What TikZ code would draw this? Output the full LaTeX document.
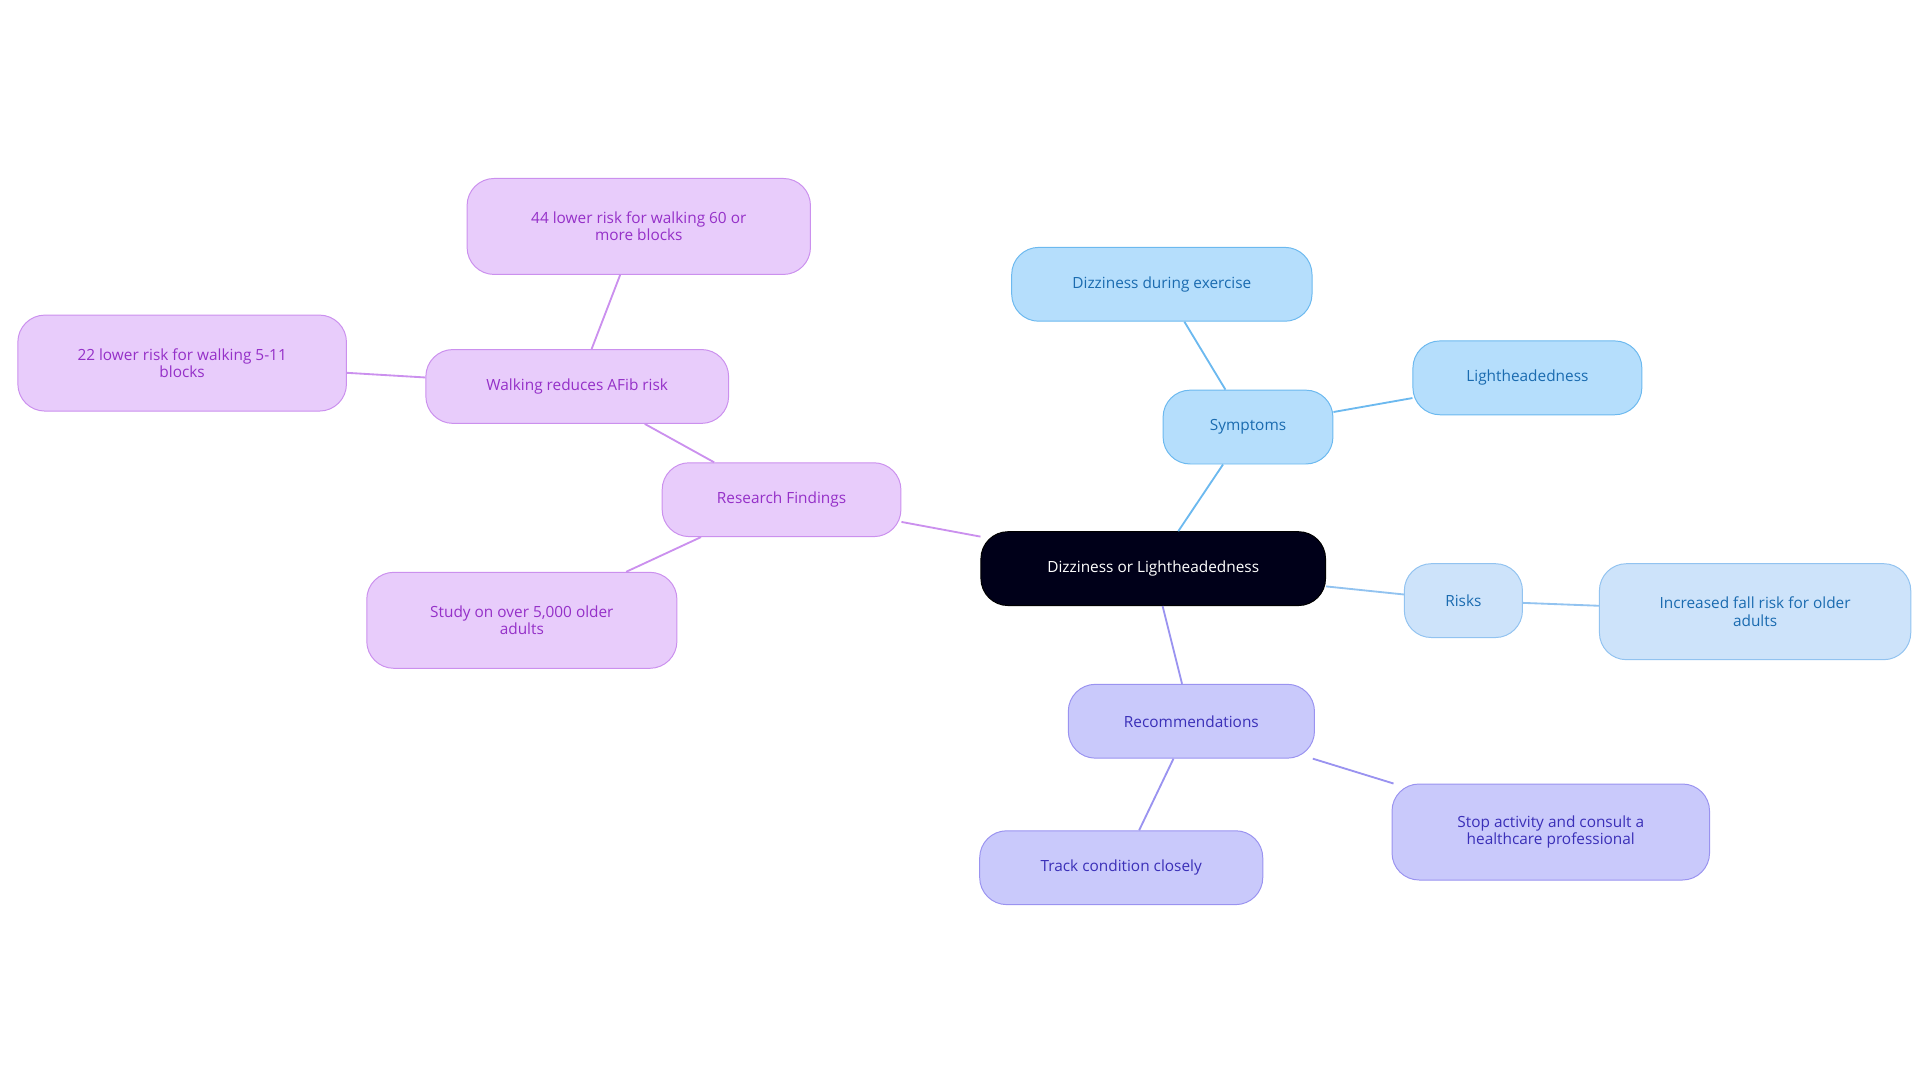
\documentclass[tikz,border=0pt]{standalone}
\usepackage{fontspec}
\setmainfont{Open Sans}
\begin{document}
\begin{tikzpicture}[x=1pt,y=-1pt,
 base/.style={rounded corners=22pt,minimum height=60pt,align=center,font=\fontsize{12.5}{14}\selectfont,line width=0.8pt},
 blu/.style={base,fill=blue1,draw=blueb,text=bluet},
 blr/.style={base,fill=blue2,draw=blueb2,text=bluet},
 ind/.style={base,fill=ind1,draw=indb,text=indt},
 pur/.style={base,fill=pur1,draw=purb,text=purt},
 ln/.style={line width=1.5pt}]
\definecolor{blue1}{HTML}{B5DEFC}\definecolor{blueb}{HTML}{6CB9EF}\definecolor{bluet}{HTML}{1A6BB0}
\definecolor{blue2}{HTML}{CDE3FA}\definecolor{blueb2}{HTML}{92C3F0}
\definecolor{ind1}{HTML}{C9C9FB}\definecolor{indb}{HTML}{9A93F0}\definecolor{indt}{HTML}{3A2FB8}
\definecolor{pur1}{HTML}{E8CCFB}\definecolor{purb}{HTML}{CB90EE}\definecolor{purt}{HTML}{9530C8}
\useasboundingbox (0,0) rectangle (1560,880);
\node[base,fill=black!90!blue,draw=black,text=white,minimum width=280pt] (c) at (937,462) {Dizziness or Lightheadedness};
\node[blu,minimum width=138pt] (s) at (1014,347) {Symptoms};
\node[blu,minimum width=244pt] (s1) at (944,231) {Dizziness during exercise};
\node[blu,minimum width=186pt] (s2) at (1241,307) {Lightheadedness};
\node[blr,minimum width=96pt] (r) at (1189,488) {Risks};
\node[blr,minimum width=253pt,minimum height=78pt] (r1) at (1426,497) {Increased fall risk for older\\adults};
\node[ind,minimum width=200pt] (m) at (968,586) {Recommendations};
\node[ind,minimum width=230pt] (m1) at (911,705) {Track condition closely};
\node[ind,minimum width=258pt,minimum height=78pt] (m2) at (1260,676) {Stop activity and consult a\\healthcare professional};
\node[pur,minimum width=194pt] (f) at (635,406) {Research Findings};
\node[pur,minimum width=246pt] (w) at (469,314) {Walking reduces AFib risk};
\node[pur,minimum width=279pt,minimum height=78pt] (w1) at (519,184) {44 lower risk for walking 60 or\\more blocks};
\node[pur,minimum width=267pt,minimum height=78pt] (w2) at (148,295) {22 lower risk for walking 5-11\\blocks};
\node[pur,minimum width=252pt,minimum height=78pt] (f2) at (424,504) {Study on over 5,000 older\\adults};
\begin{scope}[on background layer/.style={}]
\end{scope}
\draw[ln,blueb] (c) -- (s); \draw[ln,blueb] (s) -- (s1); \draw[ln,blueb] (s) -- (s2);
\draw[ln,blueb2] (c) -- (r); \draw[ln,blueb2] (r) -- (r1);
\draw[ln,indb] (c) -- (m); \draw[ln,indb] (m) -- (m1); \draw[ln,indb] (m) -- (m2);
\draw[ln,purb] (c) -- (f); \draw[ln,purb] (f) -- (w); \draw[ln,purb] (w) -- (w1); \draw[ln,purb] (w) -- (w2); \draw[ln,purb] (f) -- (f2);
\end{tikzpicture}
\end{document}
